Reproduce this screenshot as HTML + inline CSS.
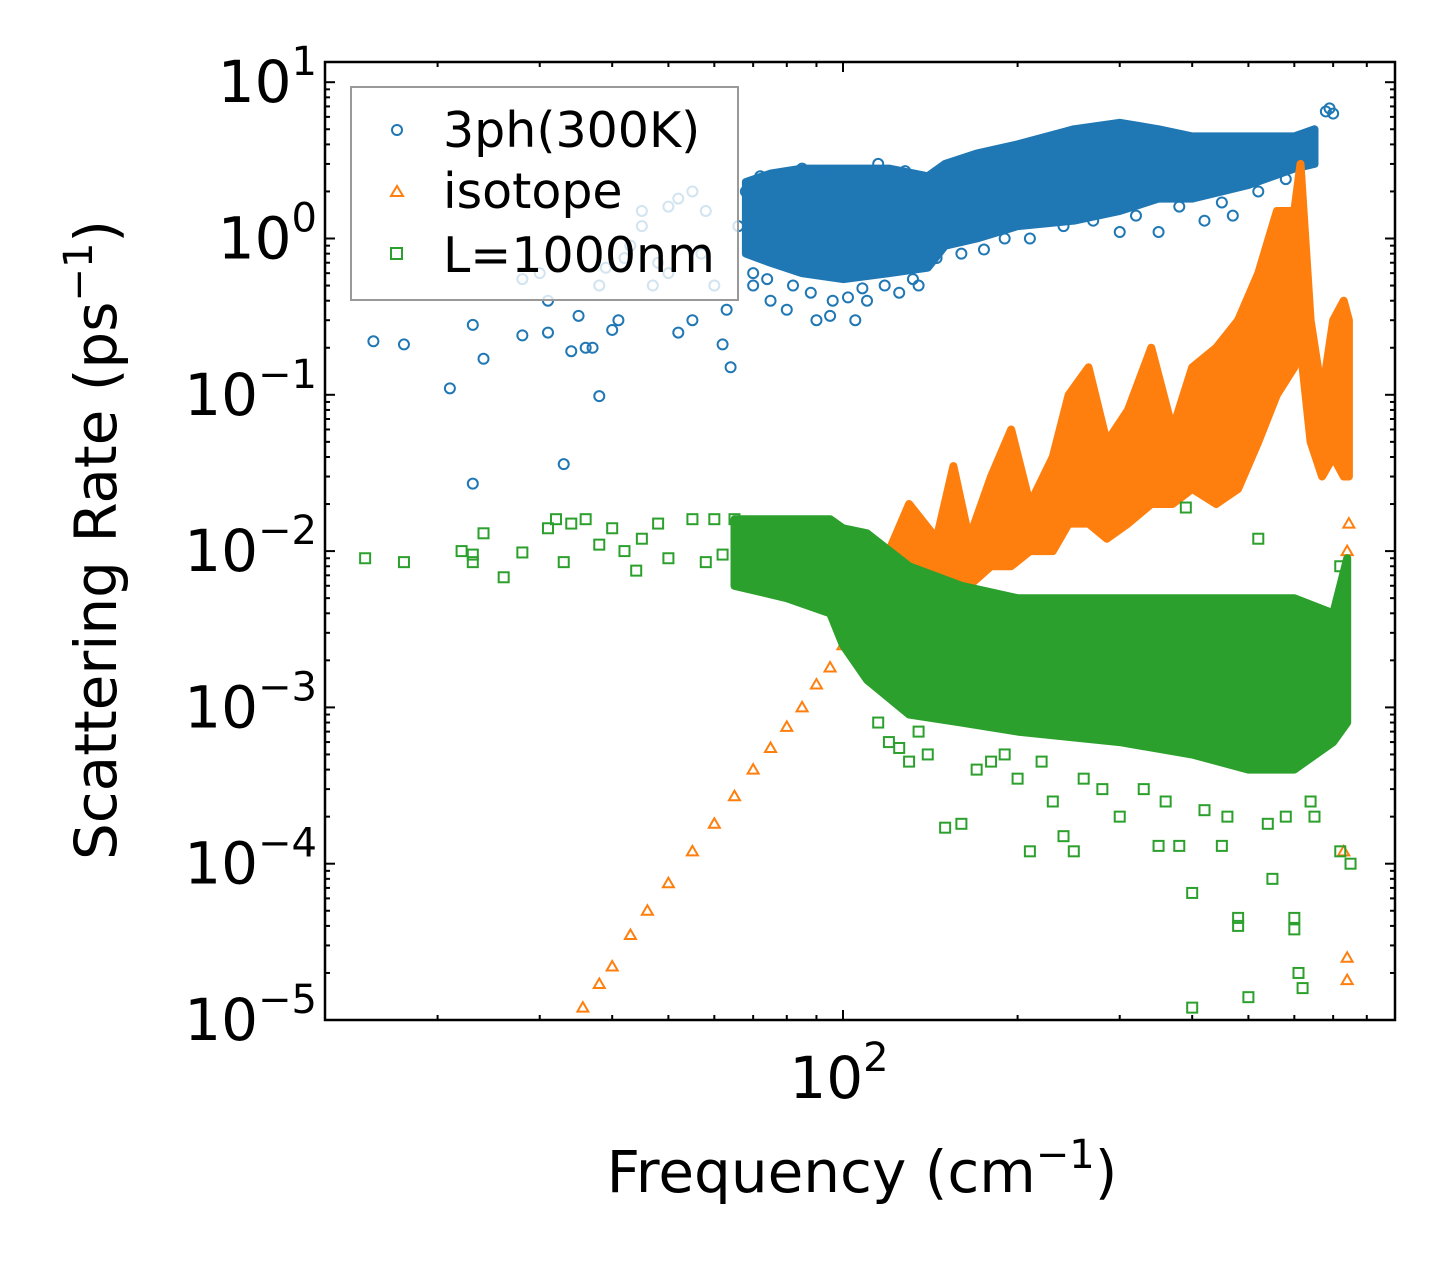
<!DOCTYPE html>
<html><head><meta charset="utf-8"><style>
body{margin:0;background:#fff;}
svg text{font-family:"DejaVu Sans","Liberation Sans",sans-serif;fill:#000;}
</style></head><body>
<svg id="chart" width="1455" height="1268" viewBox="0 0 1455 1268" xmlns="http://www.w3.org/2000/svg">
<rect x="0" y="0" width="1455" height="1268" fill="#fff"/>
<g id="series"></g>
<g id="axes"></g>
<g id="legend">
 <rect x="351" y="87" width="387" height="213" fill="#fff" fill-opacity="0.8" stroke="#999" stroke-width="2"/>
 <g><circle cx="397" cy="130" r="5" fill="none" stroke="#1f77b4" stroke-width="2"/><text x="443" y="147" font-size="49">3ph(300K)</text></g>
 <g><path d="M391,196 L403,196 L397,186 Z" fill="none" stroke="#ff7f0e" stroke-width="2"/><text x="443" y="208" font-size="49">isotope</text></g>
 <g><rect x="391" y="248" width="11" height="11" fill="none" stroke="#2ca02c" stroke-width="2"/><text x="443" y="272" font-size="49">L=1000nm</text></g>
</g>
<text x="862" y="1192" font-size="58" text-anchor="middle">Frequency (cm<tspan dy="-24" font-size="40">−1</tspan><tspan dy="24">)</tspan></text>
<text transform="translate(116,540) rotate(-90)" font-size="58" text-anchor="middle">Scattering Rate (ps<tspan dy="-24" font-size="40">−1</tspan><tspan dy="24">)</tspan></text>
</svg>
<script>
const blueFreq=[15.5,17.5,21,23,23,24,28,31,31,33,34,35,36,37,38,38,39,40,41,42,43,45,47,48,50,52,55,57,60,62,63,64,66,68,70,75,80,90,95,105,110,125,135,300,350,420,470,680,690,700,45,50,52,55,58,30,28,72,78,85,92,98,115,128,70,74,82,88,96,102,108,118,132,145,160,175,190,210,240,270,320,380,450,520,580];
const blueVal=[0.22,0.21,0.11,0.28,0.027,0.17,0.24,0.25,0.4,0.036,0.19,0.32,0.2,0.2,0.5,0.098,0.65,0.26,0.3,0.75,0.9,1.5,0.5,0.7,0.6,0.25,0.3,0.8,0.5,0.21,0.35,0.15,1.2,2,0.5,0.4,0.35,0.3,0.32,0.3,0.4,0.45,0.5,1.1,1.1,1.3,1.4,6.5,6.8,6.3,1.2,1.6,1.8,2,1.5,0.6,0.55,2.5,2.2,2.8,2.6,0.9,3,2.7,0.6,0.55,0.5,0.45,0.4,0.42,0.48,0.5,0.55,0.75,0.8,0.85,1.0,1.0,1.2,1.3,1.4,1.6,1.7,2.0,2.4];
const blueBandFreq=[68,75,85,100,120,140,150,170,200,250,300,350,400,500,600,650];
const blueBandLo=[0.8,0.7,0.6,0.55,0.6,0.65,0.9,1.0,1.2,1.3,1.5,1.8,1.8,2.2,2.8,3];
const blueBandHi=[2.3,2.6,2.8,2.8,2.8,2.5,3.0,3.5,4.0,5.0,5.5,5.0,4.5,4.5,4.5,5.0];

const orangeFreq=[35.6,38,40,43,46,50,55,60,65,70,75,80,85,90,95,100,105,740,740,730,740,745,735,720];
const orangeVal=[1.2e-5,1.7e-5,2.2e-5,3.5e-5,5e-5,7.5e-5,1.2e-4,1.8e-4,2.7e-4,4e-4,5.5e-4,7.5e-4,1e-3,1.4e-3,1.8e-3,2.5e-3,4e-3,2.5e-5,1.8e-5,1.2e-4,0.01,0.015,0.04,0.06];
const orangeBandFreq=[105,120,130,145,155,165,180,195,210,230,245,265,285,310,340,370,400,440,480,520,560,600,615,640,670,700,730,745];
const orangeBandLo=[0.003,0.004,0.005,0.006,0.007,0.006,0.008,0.008,0.01,0.01,0.015,0.015,0.012,0.015,0.02,0.02,0.025,0.02,0.025,0.05,0.1,0.15,0.2,0.05,0.03,0.04,0.03,0.03];
const orangeBandHi=[0.005,0.01,0.02,0.012,0.035,0.012,0.03,0.06,0.02,0.04,0.1,0.15,0.05,0.08,0.2,0.06,0.15,0.2,0.3,0.6,1.5,1.5,3,0.3,0.1,0.3,0.4,0.3];

const greenFreq=[15,17.5,22,23,23,24,26,28,31,32,33,34,36,38,40,42,44,45,48,50,55,58,60,62,65,68,70,125,130,150,160,180,200,210,230,240,250,300,350,380,400,400,450,480,480,500,550,600,600,610,620,650,720,750,720,390,520,115,120,135,140,170,190,220,260,280,330,360,420,460,540,580,640];
const greenVal=[0.009,0.0085,0.01,0.0095,0.0085,0.013,0.0068,0.0098,0.014,0.016,0.0085,0.015,0.016,0.011,0.014,0.01,0.0075,0.012,0.015,0.009,0.016,0.0085,0.016,0.0095,0.016,0.011,0.0095,5.5e-4,4.5e-4,1.7e-4,1.8e-4,4.5e-4,3.5e-4,1.2e-4,2.5e-4,1.5e-4,1.2e-4,2e-4,1.3e-4,1.3e-4,6.5e-5,1.2e-5,1.3e-4,4e-5,4.5e-5,1.4e-5,8e-5,4.5e-5,3.8e-5,2e-5,1.6e-5,2e-4,1.2e-4,1e-4,0.008,0.019,0.012,8e-4,6e-4,7e-4,5e-4,4e-4,5e-4,4.5e-4,3.5e-4,3e-4,3e-4,2.5e-4,2.2e-4,2e-4,1.8e-4,2e-4,2.5e-4];
const greenBandFreq=[65,80,95,100,110,130,160,200,300,400,500,600,700,740];
const greenBandLo=[0.006,0.005,0.004,0.0025,0.0015,0.0009,0.0008,0.0007,0.0006,0.0005,0.0004,0.0004,0.0006,0.0008];
const greenBandHi=[0.016,0.016,0.016,0.014,0.013,0.008,0.006,0.005,0.005,0.005,0.005,0.005,0.004,0.009];

const X0=325,X1=1395,Y0=62,Y1=1020;
function xs(f){return 843+580*Math.log10(f/100);}
function ys(v){return 1020-156.3*(Math.log10(v)+5);}
const NS='http://www.w3.org/2000/svg';
const S=document.getElementById('series');
const A=document.getElementById('axes');
function mk(tag,at,parent){const e=document.createElementNS(NS,tag);for(const k in at)e.setAttribute(k,at[k]);parent.appendChild(e);return e;}

const clip=mk('clipPath',{id:'pc'},S);mk('rect',{x:X0,y:Y0,width:X1-X0,height:Y1-Y0},clip);
function band(fr,lo,hi,color,name){
  let d='';
  fr.forEach((f,i)=>{d+=(i?'L':'M')+xs(f).toFixed(1)+','+ys(hi[i]).toFixed(1);});
  for(let i=fr.length-1;i>=0;i--)d+='L'+xs(fr[i]).toFixed(1)+','+ys(lo[i]).toFixed(1);
  const p=mk('path',{d:d+'Z',fill:color,stroke:color,'stroke-width':8,'stroke-linejoin':'round','clip-path':'url(#pc)'},S);
  
  
}
function pts(fr,vals,color,shape,name){
  const g=mk('g',{'clip-path':'url(#pc)',fill:'none',stroke:color,'stroke-width':2},S);
  
  
  fr.forEach((f,i)=>{
    const x=xs(f),y=ys(vals[i]);let e;
    if(shape==='c')e=mk('circle',{cx:x,cy:y,r:5},g);
    else if(shape==='t')e=mk('path',{d:`M${x-5.5},${y+4}L${x+5.5},${y+4}L${x},${y-5.5}Z`},g);
    else e=mk('rect',{x:x-5,y:y-5,width:10,height:10},g);
    
    
  });
}
band(blueBandFreq,blueBandLo,blueBandHi,'#1f77b4','3ph-dense-band');
pts(blueFreq,blueVal,'#1f77b4','c','3ph-points');
band(orangeBandFreq,orangeBandLo,orangeBandHi,'#ff7f0e','isotope-dense-band');
pts(orangeFreq,orangeVal,'#ff7f0e','t','isotope-points');
band(greenBandFreq,greenBandLo,greenBandHi,'#2ca02c','boundary-dense-band');
pts(greenFreq,greenVal,'#2ca02c','s','boundary-points');

const fr=mk('rect',{x:X0,y:Y0,width:X1-X0,height:Y1-Y0,fill:'none',stroke:'#000','stroke-width':2.5},A);


function tick(x1,y1,x2,y2){mk('line',{x1,y1,x2,y2,stroke:'#000','stroke-width':2},A);}
const yExp=[-5,-4,-3,-2,-1,0,1];
for(let e=-5;e<=1;e++){
  for(let m=1;m<10;m++){
    const v=m*Math.pow(10,e),y=ys(v);
    if(y<Y0-0.5||y>Y1+0.5)continue;
    const L=m===1?10:5;
    tick(X0,y,X0+L,y);tick(X1,y,X1-L,y);
  }
}
yExp.forEach(e=>{
  const t=mk('text',{x:X0-8,y:ys(Math.pow(10,e))+20,'font-size':58,'text-anchor':'end'},A);
  t.innerHTML=`10<tspan dy="-27" font-size="40">${e<0?'−'+(-e):e}</tspan>`;
  
  
});
for(let e=1;e<=2;e++){
  for(let m=1;m<10;m++){
    const f=m*Math.pow(10,e),x=xs(f);
    if(x<X0||x>X1)continue;
    const L=m===1&&e===2?10:5;
    tick(x,Y1,x,Y1-L);tick(x,Y0,x,Y0+L);
  }
}
const xl=mk('text',{x:xs(100)-4,y:1098,'font-size':58,'text-anchor':'middle'},A);
xl.innerHTML='10<tspan dy="-27" font-size="40">2</tspan>';


</script>
</body></html>
